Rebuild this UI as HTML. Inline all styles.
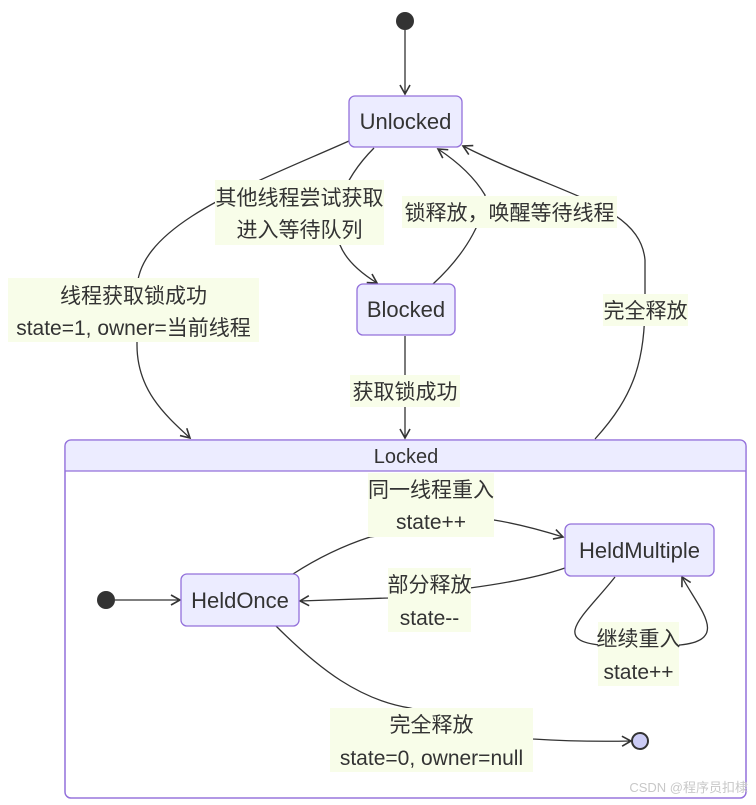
<!DOCTYPE html>
<html><head><meta charset="utf-8"><style>
html,body{margin:0;padding:0;background:#fff}
svg text{font-family:"Liberation Sans","Noto Sans CJK SC",sans-serif;fill:#333}
</style></head><body>
<svg width="756" height="800" viewBox="0 0 756 800" xmlns="http://www.w3.org/2000/svg">
<defs><marker id="a" markerWidth="12" markerHeight="12" refX="10" refY="6" orient="auto" markerUnits="userSpaceOnUse"><path d="M1,1 L10,6 L1,11" fill="none" stroke="#333" stroke-width="1.6"/></marker></defs>
<rect x="65" y="440" width="681" height="358" rx="6" fill="#fff" stroke="#9370db" stroke-width="1.3"/>
<path d="M65,471 L65,446 Q65,440 71,440 L740,440 Q746,440 746,446 L746,471 Z" fill="#ececff"/>
<line x1="65" y1="471" x2="746" y2="471" stroke="#9370db" stroke-width="1.3"/>
<rect x="65" y="440" width="681" height="358" rx="6" fill="none" stroke="#9370db" stroke-width="1.3"/>
<text x="406" y="463" font-size="20" text-anchor="middle">Locked</text>
<g fill="none" stroke="#333" stroke-width="1.3">
<path d="M405,30 L405,94" marker-end="url(#a)"/>
<path d="M349,141 C250,185 137,225 137,290 L137,345 C137,390 165,415 190,438" marker-end="url(#a)"/>
<path d="M374,148 Q350,172 340,200 L340,245 Q348,265 377,283" marker-end="url(#a)"/>
<path d="M433,284 C470,250 485,215 485,195 Q470,170 438,149" marker-end="url(#a)"/>
<path d="M595,439 C635,395 645,360 645,300 L645,260 C640,205 560,195 463,146" marker-end="url(#a)"/>
<path d="M405,336 L405,438" marker-end="url(#a)"/>
<path d="M115,600 L180,600" marker-end="url(#a)"/>
<path d="M293,574 Q330,550 370,537 L494,520 Q525,525 563,537" marker-end="url(#a)"/>
<path d="M565,568 Q530,580 470,588 L388,598 L300,601" marker-end="url(#a)"/>
<path d="M615,577 C585,615 550,640 600,645 L680,645 C730,640 700,610 682,577" marker-end="url(#a)"/>
<path d="M276,626 C320,670 360,700 410,708 L533,739 Q580,742 631,741" marker-end="url(#a)"/>
</g>
<circle cx="405" cy="21" r="9" fill="#333"/>
<rect x="349" y="96" width="113" height="51" rx="6" fill="#ececff" stroke="#9370db" stroke-width="1.3"/>
<text x="405.5" y="129" font-size="22" text-anchor="middle">Unlocked</text>
<rect x="357" y="284" width="98" height="51" rx="6" fill="#ececff" stroke="#9370db" stroke-width="1.3"/>
<text x="406" y="317" font-size="22" text-anchor="middle">Blocked</text>
<rect x="181" y="574" width="118" height="52" rx="6" fill="#ececff" stroke="#9370db" stroke-width="1.3"/>
<text x="240" y="608" font-size="22" text-anchor="middle">HeldOnce</text>
<rect x="565" y="524" width="149" height="52" rx="6" fill="#ececff" stroke="#9370db" stroke-width="1.3"/>
<text x="639.5" y="558" font-size="22" text-anchor="middle">HeldMultiple</text>
<circle cx="106" cy="600" r="9" fill="#333"/>
<circle cx="640" cy="741" r="8" fill="#ccccf5" stroke="#333" stroke-width="2"/>
<g fill="#f8fde9">
<rect x="215" y="180" width="169" height="65"/>
<rect x="402" y="196" width="215" height="32"/>
<rect x="8" y="278" width="251" height="64"/>
<rect x="603" y="294" width="85" height="32"/>
<rect x="350" y="375" width="110" height="32"/>
<rect x="368" y="473" width="126" height="64"/>
<rect x="388" y="568" width="83" height="64"/>
<rect x="598" y="622" width="81" height="64"/>
<rect x="330" y="708" width="203" height="64"/>
</g>
<g font-size="21" text-anchor="middle">
<text x="299.5" y="205">其他线程尝试获取</text>
<text x="299.5" y="237">进入等待队列</text>
<text x="509.5" y="220">锁释放，唤醒等待线程</text>
<text x="133.5" y="303">线程获取锁成功</text>
<text x="133.5" y="335">state=1, owner=当前线程</text>
<text x="645.5" y="318">完全释放</text>
<text x="405" y="399">获取锁成功</text>
<text x="431" y="497">同一线程重入</text>
<text x="431" y="529">state++</text>
<text x="429.5" y="592">部分释放</text>
<text x="429.5" y="625">state--</text>
<text x="638.5" y="646">继续重入</text>
<text x="638.5" y="679">state++</text>
<text x="431.5" y="732">完全释放</text>
<text x="431.5" y="765">state=0, owner=null</text>
</g>
<text x="748" y="792" font-size="13" text-anchor="end" style="fill:#c8c8c8">CSDN @程序员扣棣</text>
</svg>
</body></html>
